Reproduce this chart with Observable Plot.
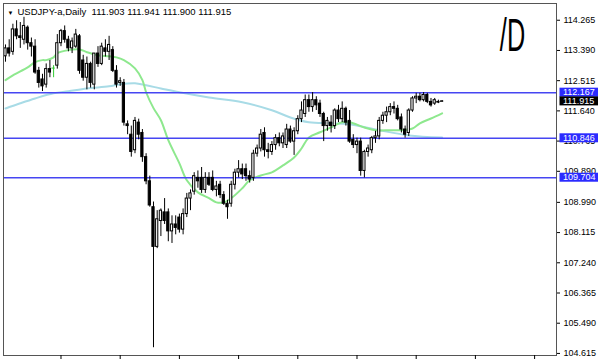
<!DOCTYPE html>
<html><head><meta charset="utf-8">
<script src="https://cdn.jsdelivr.net/npm/d3@7"></script>
<script src="https://cdn.jsdelivr.net/npm/@observablehq/plot@0.6"></script>
<style>
html,body{margin:0;padding:0;background:#fff;}
#chart{width:600px;height:359px;overflow:hidden;}
</style></head><body><div id="chart"></div>
<script>
// ---- data ----
const opens = [113.22,113.45,113.35,114.00,113.80,113.70,114.05,113.60,113.50,112.80,112.55,112.40,112.85,112.88,112.95,113.60,113.95,113.70,113.45,113.50,
113.80,113.10,112.60,113.00,112.40,113.30,113.00,113.45,113.35,113.40,112.80,112.45,112.45,111.25,110.95,110.50,111.30,111.00,110.30,109.60,
108.85,107.70,108.45,108.70,108.70,108.15,108.35,108.55,108.20,108.65,109.10,109.30,109.70,109.70,109.35,109.70,109.70,109.35,109.50,109.20,
108.95,108.95,109.50,109.85,109.95,109.95,109.75,109.70,110.40,110.55,111.00,110.50,110.45,110.65,110.85,110.70,110.65,111.10,110.75,111.05,
111.40,111.55,111.95,111.75,111.95,111.85,111.55,111.20,111.30,111.20,111.65,111.40,111.70,111.35,110.80,110.65,110.75,109.90,110.45,110.50,
110.85,110.90,111.35,111.50,111.60,111.75,111.70,111.45,111.10,111.00,111.65,112.00,112.05,111.95,112.10,111.90,111.85,111.90,111.903];
const highs = [113.55,113.70,114.15,114.25,114.20,114.35,114.10,113.75,113.70,112.90,112.70,113.00,113.10,112.95,113.85,114.00,114.10,113.80,113.75,114.00,
113.85,113.25,113.20,113.05,113.30,113.50,113.60,113.70,113.80,113.50,112.95,112.60,112.55,111.35,111.20,111.45,111.40,111.10,110.40,109.75,
109.00,108.75,108.80,109.10,108.80,108.60,108.60,108.65,108.80,109.25,109.35,109.85,109.90,110.00,109.85,109.85,109.90,109.60,109.60,109.30,
109.05,109.60,109.95,110.20,110.10,110.10,109.90,110.50,110.65,111.10,111.15,110.70,110.75,110.95,111.00,111.00,111.25,111.20,111.15,111.50,
111.90,112.10,112.10,112.17,112.05,111.95,111.60,111.45,111.50,111.70,111.80,111.90,111.75,111.65,110.95,110.85,110.85,110.50,110.65,110.90,
111.05,111.45,111.60,111.75,111.85,111.90,111.80,111.55,111.20,111.70,112.05,112.15,112.15,112.17,112.15,112.00,112.00,111.95,111.941];
const lows = [113.05,113.20,113.25,113.70,113.45,113.55,113.40,113.20,112.70,112.30,112.20,112.30,112.60,112.60,112.85,113.50,113.60,113.35,113.30,113.45,
112.70,112.50,112.25,112.30,112.25,112.90,112.95,113.20,113.10,112.75,112.30,112.35,111.20,110.95,110.30,110.40,110.80,110.15,109.50,108.85,
104.78,107.65,108.00,108.35,107.85,107.80,108.05,108.10,108.05,108.55,108.75,109.20,109.40,109.25,109.25,109.45,109.30,109.15,109.10,108.90,
108.50,108.85,109.35,109.70,109.65,109.60,109.55,109.60,110.30,110.45,110.30,110.25,110.35,110.50,110.60,110.55,110.55,110.70,110.35,110.95,
111.30,111.45,111.60,111.60,111.65,111.45,110.75,111.05,111.00,111.10,111.30,111.30,111.20,110.70,110.55,110.40,109.75,109.70,110.30,110.40,
110.70,110.80,111.25,111.30,111.50,111.55,111.35,111.00,110.85,110.90,111.60,111.85,111.90,111.90,111.85,111.75,111.80,111.85,111.900];
const closes = [113.45,113.30,114.00,113.80,113.75,114.10,113.60,113.50,112.75,112.45,112.35,112.85,112.75,112.88,113.60,113.95,113.70,113.45,113.65,113.85,
112.80,112.60,113.00,112.45,113.30,113.00,113.50,113.35,113.55,112.80,112.40,112.50,111.30,111.20,110.45,111.35,110.95,110.30,109.60,108.90,
107.70,108.50,108.75,108.45,108.15,108.35,108.25,108.20,108.65,109.10,109.25,109.75,109.60,109.35,109.70,109.50,109.35,109.45,109.20,108.95,
108.85,109.50,109.85,109.95,109.80,109.75,109.65,110.40,110.55,110.95,110.50,110.45,110.65,110.85,110.70,110.90,111.10,110.75,111.05,111.40,
111.65,111.95,111.75,111.95,111.80,111.55,111.20,111.35,111.20,111.65,111.40,111.70,111.30,110.75,110.65,110.75,109.90,110.45,110.55,110.85,
110.90,111.35,111.50,111.60,111.75,111.70,111.40,111.10,110.95,111.65,112.00,112.05,111.95,112.10,111.90,111.80,111.95,111.88,111.915];

// moving averages, read at these bar positions
const greenBars = [0,2,6,8,10,11,13,14,17,20,22,25,28,30,32,35,37,38,40,42,44,47,49,52,55,57,59,61,64,66,69,72,75,78,80,82,85,88,91,93,97,100,104,107,110,112,115,118];
const greenVals = [112.53,112.67,112.90,113.05,113.11,113.11,113.19,113.31,113.40,113.42,113.34,113.25,113.22,113.19,113.11,112.87,112.53,112.18,111.72,111.37,110.79,110.12,109.63,109.28,109.11,108.99,108.99,109.11,109.40,109.63,109.77,109.86,110.06,110.29,110.55,110.87,111.02,111.16,111.31,111.31,111.16,111.08,111.08,111.08,111.13,111.28,111.42,111.57];
const blueBars = [0,4,8,13,17,22,28,31,35,38,42,47,55,64,72,77,82,88,93,101,109,118];
const blueVals = [111.71,111.86,112.00,112.15,112.21,112.29,112.35,112.41,112.44,112.38,112.29,112.18,112.03,111.89,111.66,111.45,111.31,111.28,111.25,111.08,110.93,110.87];

const levels = [112.167, 110.846, 109.704];
const levelLabels = ["112.167", "110.846", "109.704"];
const lastPrice = 111.915;
const lastLabel = "111.915";

const tickValues = [114.265,113.390,112.515,111.640,110.765,109.890,108.990,108.115,107.240,106.365,105.490,104.615];
const tickLabels = ["114.265","113.390","112.515","111.640","110.765","109.890","108.990","108.115","107.240","106.365","105.490","104.615"];
const xTickBars = [15,31,47,63,79,95,111,127,143];

const symbolName = "USDJPY-a,Daily";
const quote = ["111.903","111.941","111.900","111.915"];
const note = "/D";

// ---- build ----
const bars = opens.map((o, i) => ({i, o, h: highs[i], l: lows[i], c: closes[i]}));
const doji = bars.filter(d => d.o === d.c);
const green = greenBars.map((i, k) => ({i, v: greenVals[k]}));
const blue = blueBars.map((i, k) => ({i, v: blueVals[k]}));
const tickMap = new Map(tickValues.map((v, k) => [v, tickLabels[k]]));
const font = "'Liberation Sans', Arial, sans-serif";

const chart = Plot.plot({
  width: 600, height: 359,
  marginLeft: 3, marginRight: 44, marginTop: 3, marginBottom: 4,
  x: {domain: [-0.54, 148.92]},
  y: {domain: [104.555, 114.75]},
  color: {type: "identity"},
  style: {fontFamily: font, background: "#fff", color: "#000"},
  marks: [
    Plot.line(blue, {x: "i", y: "v", stroke: "#a8dbe6", strokeWidth: 2, curve: "catmull-rom"}),
    Plot.line(green, {x: "i", y: "v", stroke: "#8ee88e", strokeWidth: 2, curve: "catmull-rom"}),
    Plot.ruleY(levels, {stroke: "#4646f2", strokeWidth: 1.5}),
    Plot.ruleX(bars, {x: "i", y1: "l", y2: "h", stroke: d => d.o === d.c ? "#33cc33" : "#000", strokeWidth: 1}),
    Plot.rect(bars.filter(d => d.o !== d.c), {
      x1: d => d.i - 0.3, x2: d => d.i + 0.3,
      y1: d => Math.min(d.o, d.c), y2: d => Math.max(d.o, d.c),
      fill: d => d.c > d.o ? "#fff" : "#000", stroke: "#000", strokeWidth: 1
    }),
    Plot.ruleY(doji, {y: "o", x1: d => d.i - 0.45, x2: d => d.i + 0.45, stroke: "#33cc33", strokeWidth: 1}),
    Plot.frame({stroke: "#555"}),
    Plot.axisY({anchor: "right", ticks: tickValues, tickFormat: d => tickMap.get(d), tickSize: 3, tickPadding: 4, fontSize: 9, label: null}),
    Plot.axisX({anchor: "bottom", ticks: xTickBars, tickFormat: () => "", tickSize: 4, label: null}),
    Plot.text(["\u25BC"], {frameAnchor: "top-left", dx: 4, dy: 7, fontSize: 6, textAnchor: "start", lineAnchor: "top"}),
    Plot.text([symbolName + "\u00a0\u00a0" + quote.join(" ")], {frameAnchor: "top-left", dx: 14, dy: 5, fontSize: 9.5, textAnchor: "start", lineAnchor: "top"}),
    Plot.text([note], {frameAnchor: "top-right", dx: -44, dy: 15, fontSize: 46, textAnchor: "middle", lineAnchor: "top"})
  ]
});
const holder = document.getElementById("chart");
holder.appendChild(chart);

// right-axis price boxes, positioned with Plot's y scale
const ys = chart.scale("y");
const svgNode = chart.tagName.toLowerCase() === "svg" ? chart : chart.querySelector("svg");
const svg = d3.select(svgNode);
const boxes = levels.map((v, k) => ({v, label: levelLabels[k], fill: "#2b2bff"}))
  .concat([{v: lastPrice, label: lastLabel, fill: "#000"}]);
const bg = svg.append("g").attr("text-anchor", "start");
boxes.forEach(b => {
  const y = ys.apply(b.v);
  bg.append("rect").attr("x", 559.5).attr("y", y - 4.5).attr("width", 38.5).attr("height", 9).attr("fill", b.fill);
  bg.append("text").attr("x", 563).attr("y", y).attr("dy", "0.34em").attr("fill", "#fff")
    .attr("text-anchor", "start").attr("font-size", 9).attr("font-family", font).text(b.label);
});

// condense the handwritten "/D" note
const noteText = Array.from(svgNode.querySelectorAll("text")).find(t => t.textContent === note);
if (noteText) {
  let top = noteText;
  while (top.parentNode && top.parentNode !== svgNode) top = top.parentNode;
  const r = noteText.getBoundingClientRect(), s = svgNode.getBoundingClientRect();
  const cx = r.left + r.width / 2 - s.left;
  const wrap = document.createElementNS("http://www.w3.org/2000/svg", "g");
  svgNode.insertBefore(wrap, top);
  wrap.appendChild(top);
  wrap.setAttribute("transform", `translate(${cx},0) scale(0.55,1) translate(${-cx},0)`);
}
</script></body></html>
